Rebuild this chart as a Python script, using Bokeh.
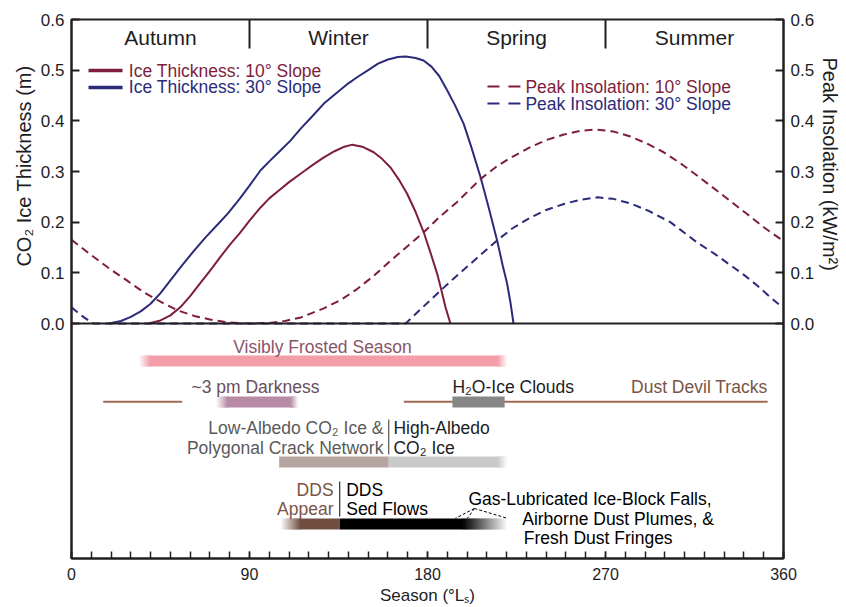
from bokeh.plotting import figure
from bokeh.models import (Range1d, LinearAxis, FixedTicker, PrintfTickFormatter, Label, Span, Title)
from bokeh.embed import file_html
from bokeh.resources import INLINE

FONT = "Liberation Sans"
RED = "#7E1E3B"
NAVY = "#2B2B7B"
INK = "#1d1d1f"
FRAME = "#231f20"

# ---------------- data ----------------
seasons = ["Autumn", "Winter", "Spring", "Summer"]
season_bounds = [0, 90, 180, 270, 360]

ice10_ls = [39, 45, 50, 55, 60, 65, 70, 75, 80, 85, 90, 95.6, 100, 105, 110, 116, 122, 127.6, 133, 138, 142,
            147, 152.8, 157, 161.3, 165.5, 169.7, 174, 178.1, 181.5, 184.9, 187, 189.1, 191.6]
ice10_v = [0, 0.006, 0.016, 0.032, 0.054, 0.079, 0.104, 0.130, 0.155, 0.178, 0.203, 0.229, 0.247, 0.263, 0.279,
           0.296, 0.313, 0.328, 0.340, 0.349, 0.353, 0.349, 0.338, 0.325, 0.308, 0.284, 0.256, 0.220, 0.180,
           0.140, 0.098, 0.066, 0.032, 0]

ice30_ls = [19, 25, 30, 35, 40, 45, 50, 56, 62, 68, 74, 79, 85, 90, 95.5, 100, 105, 110.7, 116, 122, 127.6, 134,
            140, 144.4, 150, 155, 160, 165, 169, 174, 178, 182, 186, 190, 194, 198.3, 202, 206.8, 211, 215.2,
            218, 220.3, 222, 223.5]
ice30_v = [0, 0.005, 0.013, 0.024, 0.039, 0.060, 0.085, 0.115, 0.144, 0.171, 0.196, 0.217, 0.246, 0.272, 0.302,
           0.320, 0.339, 0.361, 0.385, 0.410, 0.434, 0.455, 0.474, 0.486, 0.500, 0.513, 0.521, 0.526, 0.527,
           0.524, 0.519, 0.507, 0.488, 0.460, 0.430, 0.394, 0.350, 0.289, 0.228, 0.164, 0.115, 0.078, 0.040, 0]

ins10_ls = [0, 10, 20, 28, 36, 45, 53.6, 62, 70, 79, 90, 100, 108, 116, 127.6, 136, 144.4, 152.8, 161.3, 170,
            178.1, 186, 195, 206.8, 215, 222, 232, 240, 249, 257, 265, 274, 282.6, 291, 299.4, 308, 316.3,
            326.4, 334, 341.6, 350, 358.4, 360]
ins10_v = [0.165, 0.135, 0.106, 0.085, 0.063, 0.043, 0.026, 0.015, 0.008, 0.002, 0.0, 0.001, 0.005, 0.012,
           0.030, 0.046, 0.068, 0.094, 0.124, 0.153, 0.180, 0.210, 0.240, 0.285, 0.310, 0.327, 0.348, 0.362,
           0.373, 0.380, 0.383, 0.379, 0.369, 0.355, 0.338, 0.316, 0.292, 0.262, 0.239, 0.216, 0.190, 0.167,
           0.165]

ins30_ls = [0, 3, 6, 9, 11.3, 169, 177, 186.6, 193, 200, 207, 215.2, 223, 232, 240, 249, 257, 266, 274, 282.6,
            292, 302.8, 316.3, 325, 333.2, 340, 346.7, 353, 358.5, 360]
ins30_v = [0.032, 0.022, 0.013, 0.005, 0, 0, 0.030, 0.065, 0.088, 0.112, 0.136, 0.164, 0.188, 0.209, 0.224,
           0.236, 0.244, 0.249, 0.246, 0.237, 0.222, 0.200, 0.160, 0.138, 0.115, 0.096, 0.075, 0.053, 0.035,
           0.032]

# lower panel: seasonal activity ranges (deg Ls)
frost_range = (34, 220.4)
dark_range = (73, 114.7)
cloud_range = (192.6, 219)
ddt_segments = [(16, 56), (168, 352)]
low_albedo_range = (105, 160.4)
high_albedo_range = (160.4, 220.4)
dds_appear_range = (105.7, 135.6)
dds_flow_range = (135.6, 198)
gas_range = (198, 220.4)

y_ticks = [0.0, 0.1, 0.2, 0.3, 0.4, 0.5, 0.6]
x_ticks = [0, 90, 180, 270, 360]
x_minor = list(range(0, 361, 10))

# ---------------- figure ----------------
p = figure(width=846, height=607, x_range=Range1d(0, 360), y_range=Range1d(-0.4638, 0.6),
           output_backend="svg", toolbar_location=None,
           min_border_left=71, min_border_right=63, min_border_top=19, min_border_bottom=49)
p.grid.visible = False
p.outline_line_color = FRAME
p.outline_line_width = 2


def style_y(ax):
    ax.ticker = FixedTicker(ticks=y_ticks, minor_ticks=[])
    ax.formatter = PrintfTickFormatter(format="%.1f")
    ax.major_tick_in = 8
    ax.major_tick_out = 0
    ax.minor_tick_in = 0
    ax.minor_tick_out = 0
    ax.axis_line_width = 2
    ax.axis_line_color = FRAME
    ax.major_tick_line_width = 2
    ax.major_tick_line_color = FRAME
    ax.major_label_text_font = FONT
    ax.major_label_text_font_size = "17px"
    ax.major_label_text_color = INK
    ax.major_label_standoff = 7


style_y(p.yaxis[0])
rax = LinearAxis()
style_y(rax)
p.add_layout(rax, "right")

# axis titles centred on the upper panel
p.add_layout(Title(text="CO₂ Ice Thickness (m)", align="right", offset=46, standoff=6,
                   text_font=FONT, text_font_size="20px", text_font_style="normal",
                   text_color=INK), "left")
p.add_layout(Title(text="Peak Insolation (kW/m²)", align="left", offset=38, standoff=3,
                   text_font=FONT, text_font_size="20px", text_font_style="normal",
                   text_color=INK), "right")

xa = p.xaxis[0]
xa.ticker = FixedTicker(ticks=x_ticks, minor_ticks=x_minor)
xa.major_tick_in = 7
xa.major_tick_out = 0
xa.minor_tick_in = 7
xa.minor_tick_out = 0
xa.axis_line_width = 2
xa.axis_line_color = FRAME
xa.major_tick_line_width = 1.5
xa.minor_tick_line_width = 1.5
xa.major_tick_line_color = FRAME
xa.minor_tick_line_color = FRAME
xa.major_label_text_font = FONT
xa.major_label_text_font_size = "16px"
xa.major_label_text_color = INK
xa.major_label_standoff = 9
xa.axis_label = "Season (°Lₛ)"
xa.axis_label_text_font = FONT
xa.axis_label_text_font_size = "17px"
xa.axis_label_text_font_style = "normal"
xa.axis_label_text_color = INK
xa.axis_label_standoff = 3

# divider between the two panels
p.add_layout(Span(location=0, dimension="width", line_color=FRAME, line_width=2))


def lab(x, y, text, size="17.5px", color=INK, align="left"):
    p.add_layout(Label(x=x, y=y, text=text, text_font=FONT, text_font_size=size,
                       text_color=color, text_align=align, text_baseline="middle"))


# seasons header
for i, s in enumerate(seasons):
    lab((season_bounds[i] + season_bounds[i + 1]) / 2, 0.5644, s, size="21px", align="center")
mid = season_bounds[1:-1]
p.segment(x0=mid, y0=[0.6] * len(mid), x1=mid, y1=[0.5427] * len(mid), line_color=FRAME, line_width=2)

# curves
p.line(ice10_ls, ice10_v, line_color=RED, line_width=2)
p.line(ice30_ls, ice30_v, line_color=NAVY, line_width=2)
p.line(ins10_ls, ins10_v, line_color=RED, line_width=2, line_dash="8 5")
p.line(ins30_ls, ins30_v, line_color=NAVY, line_width=2, line_dash="8 5")

# legends
p.segment(x0=[8.6, 8.6], y0=[0.4993, 0.4658], x1=[25.8, 25.8], y1=[0.4993, 0.4658],
          line_color=[RED, NAVY], line_width=3.5)
lab(29.0, 0.4993, "Ice Thickness: 10° Slope", color=RED)
lab(29.0, 0.4658, "Ice Thickness: 30° Slope", color=NAVY)
p.segment(x0=[210.3, 210.3], y0=[0.4677, 0.4342], x1=[227, 227], y1=[0.4677, 0.4342],
          line_color=[RED, NAVY], line_width=2, line_dash="12 9")
lab(229.5, 0.4677, "Peak Insolation: 10° Slope", color=RED)
lab(229.5, 0.4342, "Peak Insolation: 30° Slope", color=NAVY)

# ---------------- lower panel ----------------
H = 0.0109


def mix(color, t):
    """blend color with white; t=1 -> color, t=0 -> white"""
    c = color.lstrip("#")
    r, g, b = int(c[0:2], 16), int(c[2:4], 16), int(c[4:6], 16)
    r = round(255 + (r - 255) * t)
    g = round(255 + (g - 255) * t)
    b = round(255 + (b - 255) * t)
    return "#%02x%02x%02x" % (r, g, b)


def bar(rng, yc, color, fade_l=0.0, fade_r=0.0, n=16):
    x0, x1 = rng
    lefts, rights, colors = [], [], []
    eps = 0.35
    if fade_l > 0:
        w = fade_l / n
        for i in range(n):
            lefts.append(x0 + i * w)
            rights.append(x0 + (i + 1) * w + eps)
            colors.append(mix(color, (i + 0.5) / n))
    lefts.append(x0 + fade_l)
    rights.append(x1 - fade_r + (eps if fade_r > 0 else 0))
    colors.append(color)
    if fade_r > 0:
        w = fade_r / n
        s = x1 - fade_r
        for i in range(n):
            lefts.append(s + i * w)
            rights.append(s + (i + 1) * w + (eps if i < n - 1 else 0))
            colors.append(mix(color, 1 - (i + 0.5) / n))
    p.quad(left=lefts, right=rights, top=yc + H, bottom=yc - H,
           fill_color=colors, line_color=None)


# row 1: visibly frosted
lab(126.9, -0.0454, "Visibly Frosted Season", color="#8A5468", align="center")
bar(frost_range, -0.0740, "#F29DA8", fade_l=6, fade_r=5)

# row 2: darkness, clouds, dust devil tracks
for a, b in ddt_segments:
    p.segment(x0=[a], y0=[-0.1545], x1=[b], y1=[-0.1545], line_color="#9E6B55", line_width=2)
bar(dark_range, -0.1550, "#B78BA5", fade_l=6, fade_r=4)
bar(cloud_range, -0.1550, "#878787")
lab(93.0, -0.1263, "~3 pm Darkness", color="#6A4E5C", align="center")
lab(192.6, -0.1263, "H₂O-Ice Clouds", color=INK)
lab(351.9, -0.1263, "Dust Devil Tracks", color="#7B5444", align="right")

# row 3: albedo
lab(157.7, -0.2072, "Low-Albedo CO₂ Ice &", color="#5A5A5A", align="right")
lab(157.7, -0.2457, "Polygonal Crack Network", color="#5A5A5A", align="right")
lab(162.8, -0.2072, "High-Albedo", color=INK)
lab(162.8, -0.2457, "CO₂ Ice", color=INK)
p.segment(x0=[low_albedo_range[1]], y0=[-0.1895], x1=[low_albedo_range[1]], y1=[-0.2585],
          line_color="#555555", line_width=1.2)
bar(low_albedo_range, -0.2733, "#B6A5A0")
bar(high_albedo_range, -0.2733, "#CACACA", fade_r=5)

# row 4: DDS and gas-lubricated activity
lab(132.5, -0.3286, "DDS", color="#7B5444", align="right")
lab(132.5, -0.3661, "Appear", color="#7B5444", align="right")
lab(138.9, -0.3286, "DDS", color="black")
lab(138.9, -0.3661, "Sed Flows", color="black")
p.segment(x0=[dds_appear_range[1]], y0=[-0.3118], x1=[dds_appear_range[1]], y1=[-0.3809],
          line_color="#333333", line_width=1.2)
bar(dds_appear_range, -0.3957, "#6F4E40", fade_l=10)
bar(dds_flow_range, -0.3957, "#000000")
bar(gas_range, -0.3957, "#000000", fade_r=gas_range[1] - gas_range[0], n=30)

lab(200.7, -0.3473, "Gas-Lubricated Ice-Block Falls,", color="black")
lab(227.9, -0.3868, "Airborne Dust Plumes, &", color="black")
lab(228.7, -0.4233, "Fresh Dust Fringes", color="black")
ends = [194.1, 200.2, 220.4]
p.segment(x0=[203.7] * 3, y0=[-0.3651] * 3, x1=ends, y1=[-0.3845] * 3,
          line_color="black", line_width=1, line_dash="3 2")

open("out.html", "w").write(file_html(p, INLINE))
